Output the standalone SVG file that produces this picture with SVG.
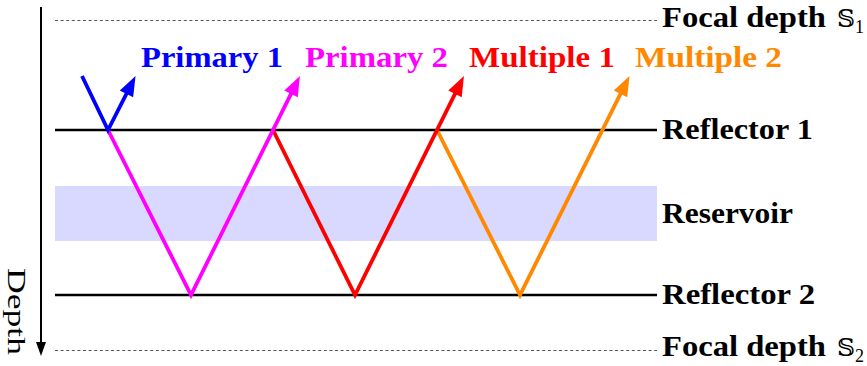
<svg xmlns="http://www.w3.org/2000/svg" width="867" height="366" viewBox="0 0 867 366">
<style>
text{font-family:"Liberation Serif","Times New Roman",serif}
.lbl{font-family:"Liberation Serif","Times New Roman",serif;font-weight:bold;font-size:29px}
.ray{fill:none;stroke-width:3.8;stroke-linejoin:miter;stroke-miterlimit:10}
.refl{stroke:#000;stroke-width:2.5;fill:none}
.focal{stroke:#555;stroke-width:1;stroke-dasharray:3 2.6;fill:none}
.dbl{font-family:"DejaVu Serif","DejaVu Sans",serif;font-weight:normal;font-size:25px}
.sub{font-size:18px;font-weight:normal}
</style>
<defs>
<marker id="ahB" markerUnits="userSpaceOnUse" viewBox="-9 -8 23 16" markerWidth="23" markerHeight="16" refX="0" refY="0" orient="auto" overflow="visible"><path d="M12,0 L-8,-7.5 L-8,7.5 z" fill="#0000ff"/></marker>
<marker id="ahM" markerUnits="userSpaceOnUse" viewBox="-9 -8 23 16" markerWidth="23" markerHeight="16" refX="0" refY="0" orient="auto" overflow="visible"><path d="M12,0 L-8,-7.5 L-8,7.5 z" fill="#ff00ff"/></marker>
<marker id="ahR" markerUnits="userSpaceOnUse" viewBox="-9 -8 23 16" markerWidth="23" markerHeight="16" refX="0" refY="0" orient="auto" overflow="visible"><path d="M12,0 L-8,-7.5 L-8,7.5 z" fill="#ff0000"/></marker>
<marker id="ahO" markerUnits="userSpaceOnUse" viewBox="-9 -8 23 16" markerWidth="23" markerHeight="16" refX="0" refY="0" orient="auto" overflow="visible"><path d="M12,0 L-8,-7.5 L-8,7.5 z" fill="#ff8800"/></marker>
<marker id="ahK" markerUnits="userSpaceOnUse" viewBox="-6 -6 16 12" markerWidth="16" markerHeight="12" refX="0" refY="0" orient="auto" overflow="visible"><path d="M9,0 L-5,-5 L-5,5 z" fill="#000"/></marker>
</defs>

<g id="depth-axis">
<line x1="41" y1="7" x2="41" y2="347" stroke="#000" stroke-width="2" marker-end="url(#ahK)"/>
<text transform="translate(8,268) rotate(90)" x="0" y="0" font-family="Liberation Serif, Times New Roman, serif" font-size="26" textLength="87" lengthAdjust="spacingAndGlyphs">Depth</text>
</g>

<g id="reservoir">
<rect x="55" y="186" width="602" height="55" fill="#d9d9ff"/>
<text class="lbl" x="662" y="223" font-family="Liberation Serif, serif" font-weight="bold" textLength="131" lengthAdjust="spacingAndGlyphs">Reservoir</text>
</g>

<g id="focal-1">
<line class="focal" x1="55" y1="20.5" x2="657" y2="20.5"/>
<text class="lbl" x="662" y="27" font-family="Liberation Serif, serif" font-weight="bold"><tspan textLength="164" lengthAdjust="spacingAndGlyphs">Focal depth</tspan><tspan class="dbl" x="837">𝕊</tspan><tspan class="sub" x="855" y="33">1</tspan></text>
</g>

<g id="focal-2">
<line class="focal" x1="55" y1="350.5" x2="657" y2="350.5"/>
<text class="lbl" x="662" y="356" font-family="Liberation Serif, serif" font-weight="bold"><tspan textLength="164" lengthAdjust="spacingAndGlyphs">Focal depth</tspan><tspan class="dbl" x="837">𝕊</tspan><tspan class="sub" x="855" y="362">2</tspan></text>
</g>

<g id="reflector-1">
<line class="refl" x1="55" y1="130" x2="657" y2="130"/>
<text class="lbl" x="662" y="139" font-family="Liberation Serif, serif" font-weight="bold" textLength="151" lengthAdjust="spacingAndGlyphs">Reflector 1</text>
</g>

<g id="reflector-2">
<line class="refl" x1="55" y1="295" x2="657" y2="295"/>
<text class="lbl" x="662" y="304" font-family="Liberation Serif, serif" font-weight="bold" textLength="153" lengthAdjust="spacingAndGlyphs">Reflector 2</text>
</g>

<g id="connectors">
<polyline class="ray" stroke="#ff8800" points="437,130 520,295 624.1,86.7" marker-end="url(#ahO)"/>
<polyline class="ray" stroke="#ff0000" points="273,130 355,295 458.6,86.7" marker-end="url(#ahR)"/>
<polyline class="ray" stroke="#ff00ff" points="108,130 191,295 294.6,86.7" marker-end="url(#ahM)"/>
<polyline class="ray" stroke="#0000ff" points="82,76 108,130 130.1,86.7" marker-end="url(#ahB)"/>
</g>

<g id="primary-1"><text class="lbl" x="141" y="66.5" fill="#0000ff" font-family="Liberation Serif, serif" font-weight="bold" textLength="142" lengthAdjust="spacingAndGlyphs">Primary 1</text></g>
<g id="primary-2"><text class="lbl" x="305" y="66.5" fill="#ff00ff" font-family="Liberation Serif, serif" font-weight="bold" textLength="143" lengthAdjust="spacingAndGlyphs">Primary 2</text></g>
<g id="multiple-1"><text class="lbl" x="469" y="66.5" fill="#ff0000" font-family="Liberation Serif, serif" font-weight="bold" textLength="146" lengthAdjust="spacingAndGlyphs">Multiple 1</text></g>
<g id="multiple-2"><text class="lbl" x="635" y="66.5" fill="#ff8800" font-family="Liberation Serif, serif" font-weight="bold" textLength="147" lengthAdjust="spacingAndGlyphs">Multiple 2</text></g>
</svg>
